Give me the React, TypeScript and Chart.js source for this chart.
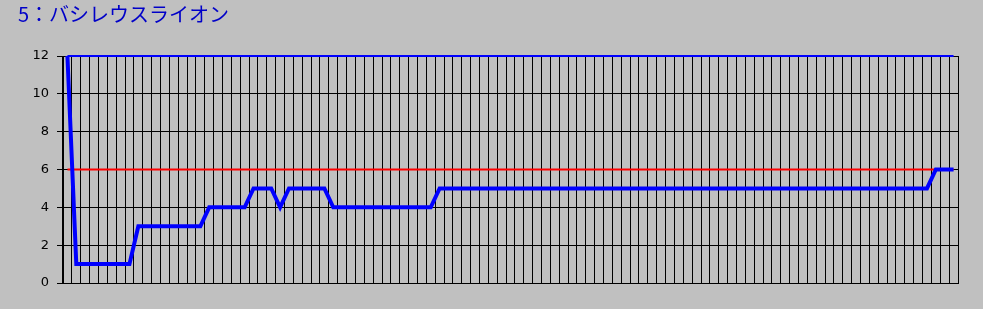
import React, { useEffect, useRef } from "react";
import { Chart, registerables } from "chart.js";

Chart.register(...registerables);

const TITLE = "5：バシレウスライオン";

const categories = [
  "1", "2", "3", "4", "5", "6", "7", "8", "9", "10",
  "11", "12", "13", "14", "15", "16", "17", "18", "19", "20",
  "21", "22", "23", "24", "25", "26", "27", "28", "29", "30",
  "31", "32", "33", "34", "35", "36", "37", "38", "39", "40",
  "41", "42", "43", "44", "45", "46", "47", "48", "49", "50",
  "51", "52", "53", "54", "55", "56", "57", "58", "59", "60",
  "61", "62", "63", "64", "65", "66", "67", "68", "69", "70",
  "71", "72", "73", "74", "75", "76", "77", "78", "79", "80",
  "81", "82", "83", "84", "85", "86", "87", "88", "89", "90",
  "91", "92", "93", "94", "95", "96", "97", "98", "99", "100",
  "101",
];

const mainValues = [
  12, 1, 1, 1, 1, 1, 1, 1, 3, 3,
  3, 3, 3, 3, 3, 3, 4, 4, 4, 4,
  4, 5, 5, 5, 4, 5, 5, 5, 5, 5,
  4, 4, 4, 4, 4, 4, 4, 4, 4, 4,
  4, 4, 5, 5, 5, 5, 5, 5, 5, 5,
  5, 5, 5, 5, 5, 5, 5, 5, 5, 5,
  5, 5, 5, 5, 5, 5, 5, 5, 5, 5,
  5, 5, 5, 5, 5, 5, 5, 5, 5, 5,
  5, 5, 5, 5, 5, 5, 5, 5, 5, 5,
  5, 5, 5, 5, 5, 5, 5, 5, 6, 6,
  6,
];

const referenceValues = [
  6, 6, 6, 6, 6, 6, 6, 6, 6, 6,
  6, 6, 6, 6, 6, 6, 6, 6, 6, 6,
  6, 6, 6, 6, 6, 6, 6, 6, 6, 6,
  6, 6, 6, 6, 6, 6, 6, 6, 6, 6,
  6, 6, 6, 6, 6, 6, 6, 6, 6, 6,
  6, 6, 6, 6, 6, 6, 6, 6, 6, 6,
  6, 6, 6, 6, 6, 6, 6, 6, 6, 6,
  6, 6, 6, 6, 6, 6, 6, 6, 6, 6,
  6, 6, 6, 6, 6, 6, 6, 6, 6, 6,
  6, 6, 6, 6, 6, 6, 6, 6, 6, 6,
  6,
];

const maxValues = [
  12, 12, 12, 12, 12, 12, 12, 12, 12, 12,
  12, 12, 12, 12, 12, 12, 12, 12, 12, 12,
  12, 12, 12, 12, 12, 12, 12, 12, 12, 12,
  12, 12, 12, 12, 12, 12, 12, 12, 12, 12,
  12, 12, 12, 12, 12, 12, 12, 12, 12, 12,
  12, 12, 12, 12, 12, 12, 12, 12, 12, 12,
  12, 12, 12, 12, 12, 12, 12, 12, 12, 12,
  12, 12, 12, 12, 12, 12, 12, 12, 12, 12,
  12, 12, 12, 12, 12, 12, 12, 12, 12, 12,
  12, 12, 12, 12, 12, 12, 12, 12, 12, 12,
  12,
];

const Y_MIN = 0;
const Y_MAX = 12;
const Y_STEP = 2;

export default function App() {
  const canvasRef = useRef<HTMLCanvasElement | null>(null);

  useEffect(() => {
    document.body.style.margin = "0";
    document.body.style.background = "#c0c0c0";
    const canvas = canvasRef.current;
    if (!canvas) return;
    const chart = new Chart(canvas, {
      type: "line",
      data: {
        labels: categories,
        datasets: [
          {
            data: mainValues,
            borderColor: "#0000ff",
            borderWidth: 4,
            pointRadius: 0,
            fill: false,
            tension: 0,
            clip: 3,
          },
          {
            data: referenceValues,
            borderColor: "#ff0000",
            borderWidth: 2,
            pointRadius: 0,
            fill: false,
            tension: 0,
            clip: 3,
          },
          {
            data: maxValues,
            borderColor: "#0000ff",
            borderWidth: 2,
            pointRadius: 0,
            fill: false,
            tension: 0,
            clip: 3,
          },
        ],
      },
      options: {
        animation: false,
        responsive: false,
        devicePixelRatio: 1,
        layout: { padding: { left: 18, right: 25, top: 0, bottom: 26 } },
        plugins: {
          legend: { display: false },
          tooltip: { enabled: false },
          title: {
            display: true,
            text: TITLE,
            align: "start",
            color: "#0000c8",
            font: { family: '"Noto Sans CJK JP"', size: 20, weight: "normal", lineHeight: 1.2 },
            padding: { top: 2, bottom: 30 },
          },
        },
        scales: {
          x: {
            type: "category",
            offset: true,
            grid: { offset: true, color: "#000000", lineWidth: 1, drawTicks: false },
            border: { color: "#000000", width: 1 },
            ticks: { display: false },
          },
          y: {
            min: Y_MIN,
            max: Y_MAX,
            ticks: {
              stepSize: Y_STEP,
              color: "#000000",
              font: { family: '"DejaVu Sans", sans-serif', size: 13 },
              padding: 8,
            },
            grid: { color: "#000000", lineWidth: 1, tickLength: 6 },
            border: { color: "#000000", width: 1 },
            afterFit: (scale: any) => {
              scale.width = 45;
            },
          },
        },
      },
    } as any);
    return () => chart.destroy();
  }, []);

  return (
    <div style={{ position: "fixed", left: 0, top: 0, width: 983, height: 309, background: "#c0c0c0" }}>
      <canvas ref={canvasRef} width={983} height={309} style={{ display: "block", width: 983, height: 309 }} />
    </div>
  );
}
